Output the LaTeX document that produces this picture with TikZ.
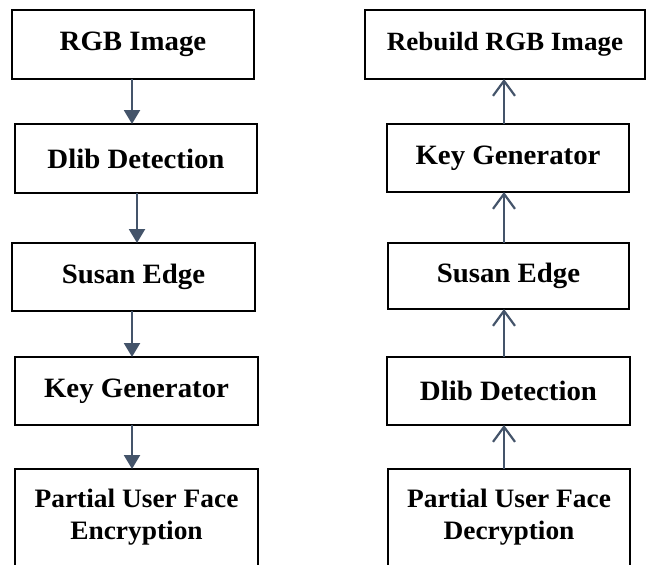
\documentclass[tikz,border=0pt]{standalone}
\usepackage{fontspec}
\setmainfont{Liberation Serif}[FakeStretch=1.03]
\usetikzlibrary{arrows.meta}
\definecolor{arrcol}{HTML}{44546A}
\begin{document}
\begin{tikzpicture}[x=1pt,y=-1pt,
  box/.style={draw=black, line width=2.6pt, fill=white, align=center, inner sep=0pt,
    outer sep=0pt, font=\fontsize{28}{32}\selectfont\bfseries},
  smalltext/.style={font=\fontsize{26.6}{32}\selectfont\bfseries},
  arrL/.style={draw=arrcol, line width=2.2pt, -{Triangle[length=14pt,width=16pt]}},
  arrR/.style={draw=arrcol, line width=2.2pt, -{Straight Barb[length=15pt,width=22pt,line width=2.2pt]}}]
\useasboundingbox (0,0) rectangle (646,565);
% left column
\node[box, minimum width=242pt, minimum height=69pt] (lrgb) at (133,44.5) {RGB Image};
\node[box, minimum width=242pt, minimum height=69pt] (ldlib) at (136,158.5) {Dlib Detection};
\node[box, minimum width=243pt, minimum height=68pt] (lsusan) at (133.5,277) {Susan Edge};
\node[box, minimum width=243pt, minimum height=68pt] (lkey) at (136.5,391) {Key Generator};
\node[box, smalltext, minimum width=243pt, minimum height=97pt] (lenc) at (136.5,517.5) {Partial User Face\\Encryption};
% right column
\node[box, minimum width=280pt, minimum height=69pt, font=\fontsize{26.3}{30}\selectfont\bfseries] (rrgb) at (505,44.5) {Rebuild RGB Image};
\node[box, minimum width=242pt, minimum height=68pt] (rkey) at (508,158) {Key Generator};
\node[box, minimum width=241pt, minimum height=66pt] (rsusan) at (508.5,276) {Susan Edge};
\node[box, minimum width=243pt, minimum height=68pt] (rdlib) at (508.5,391) {Dlib Detection};
\node[box, smalltext, minimum width=242pt, minimum height=97pt] (rdec) at (509,517.5) {Partial User Face\\Decryption};
% left arrows
\draw[arrL] (lrgb.south -| 132,0) -- (ldlib.north -| 132,0);
\draw[arrL] (ldlib.south -| 137,0) -- (lsusan.north -| 137,0);
\draw[arrL] (lsusan.south -| 132,0) -- (lkey.north -| 132,0);
\draw[arrL] (lkey.south -| 132,0) -- (lenc.north -| 132,0);
% right arrows
\draw[arrR] (rkey.north -| 504,0) -- (rrgb.south -| 504,0);
\draw[arrR] (rsusan.north -| 504,0) -- (rkey.south -| 504,0);
\draw[arrR] (rdlib.north -| 504,0) -- (rsusan.south -| 504,0);
\draw[arrR] (rdec.north -| 504,0) -- (rdlib.south -| 504,0);
\end{tikzpicture}
\end{document}
